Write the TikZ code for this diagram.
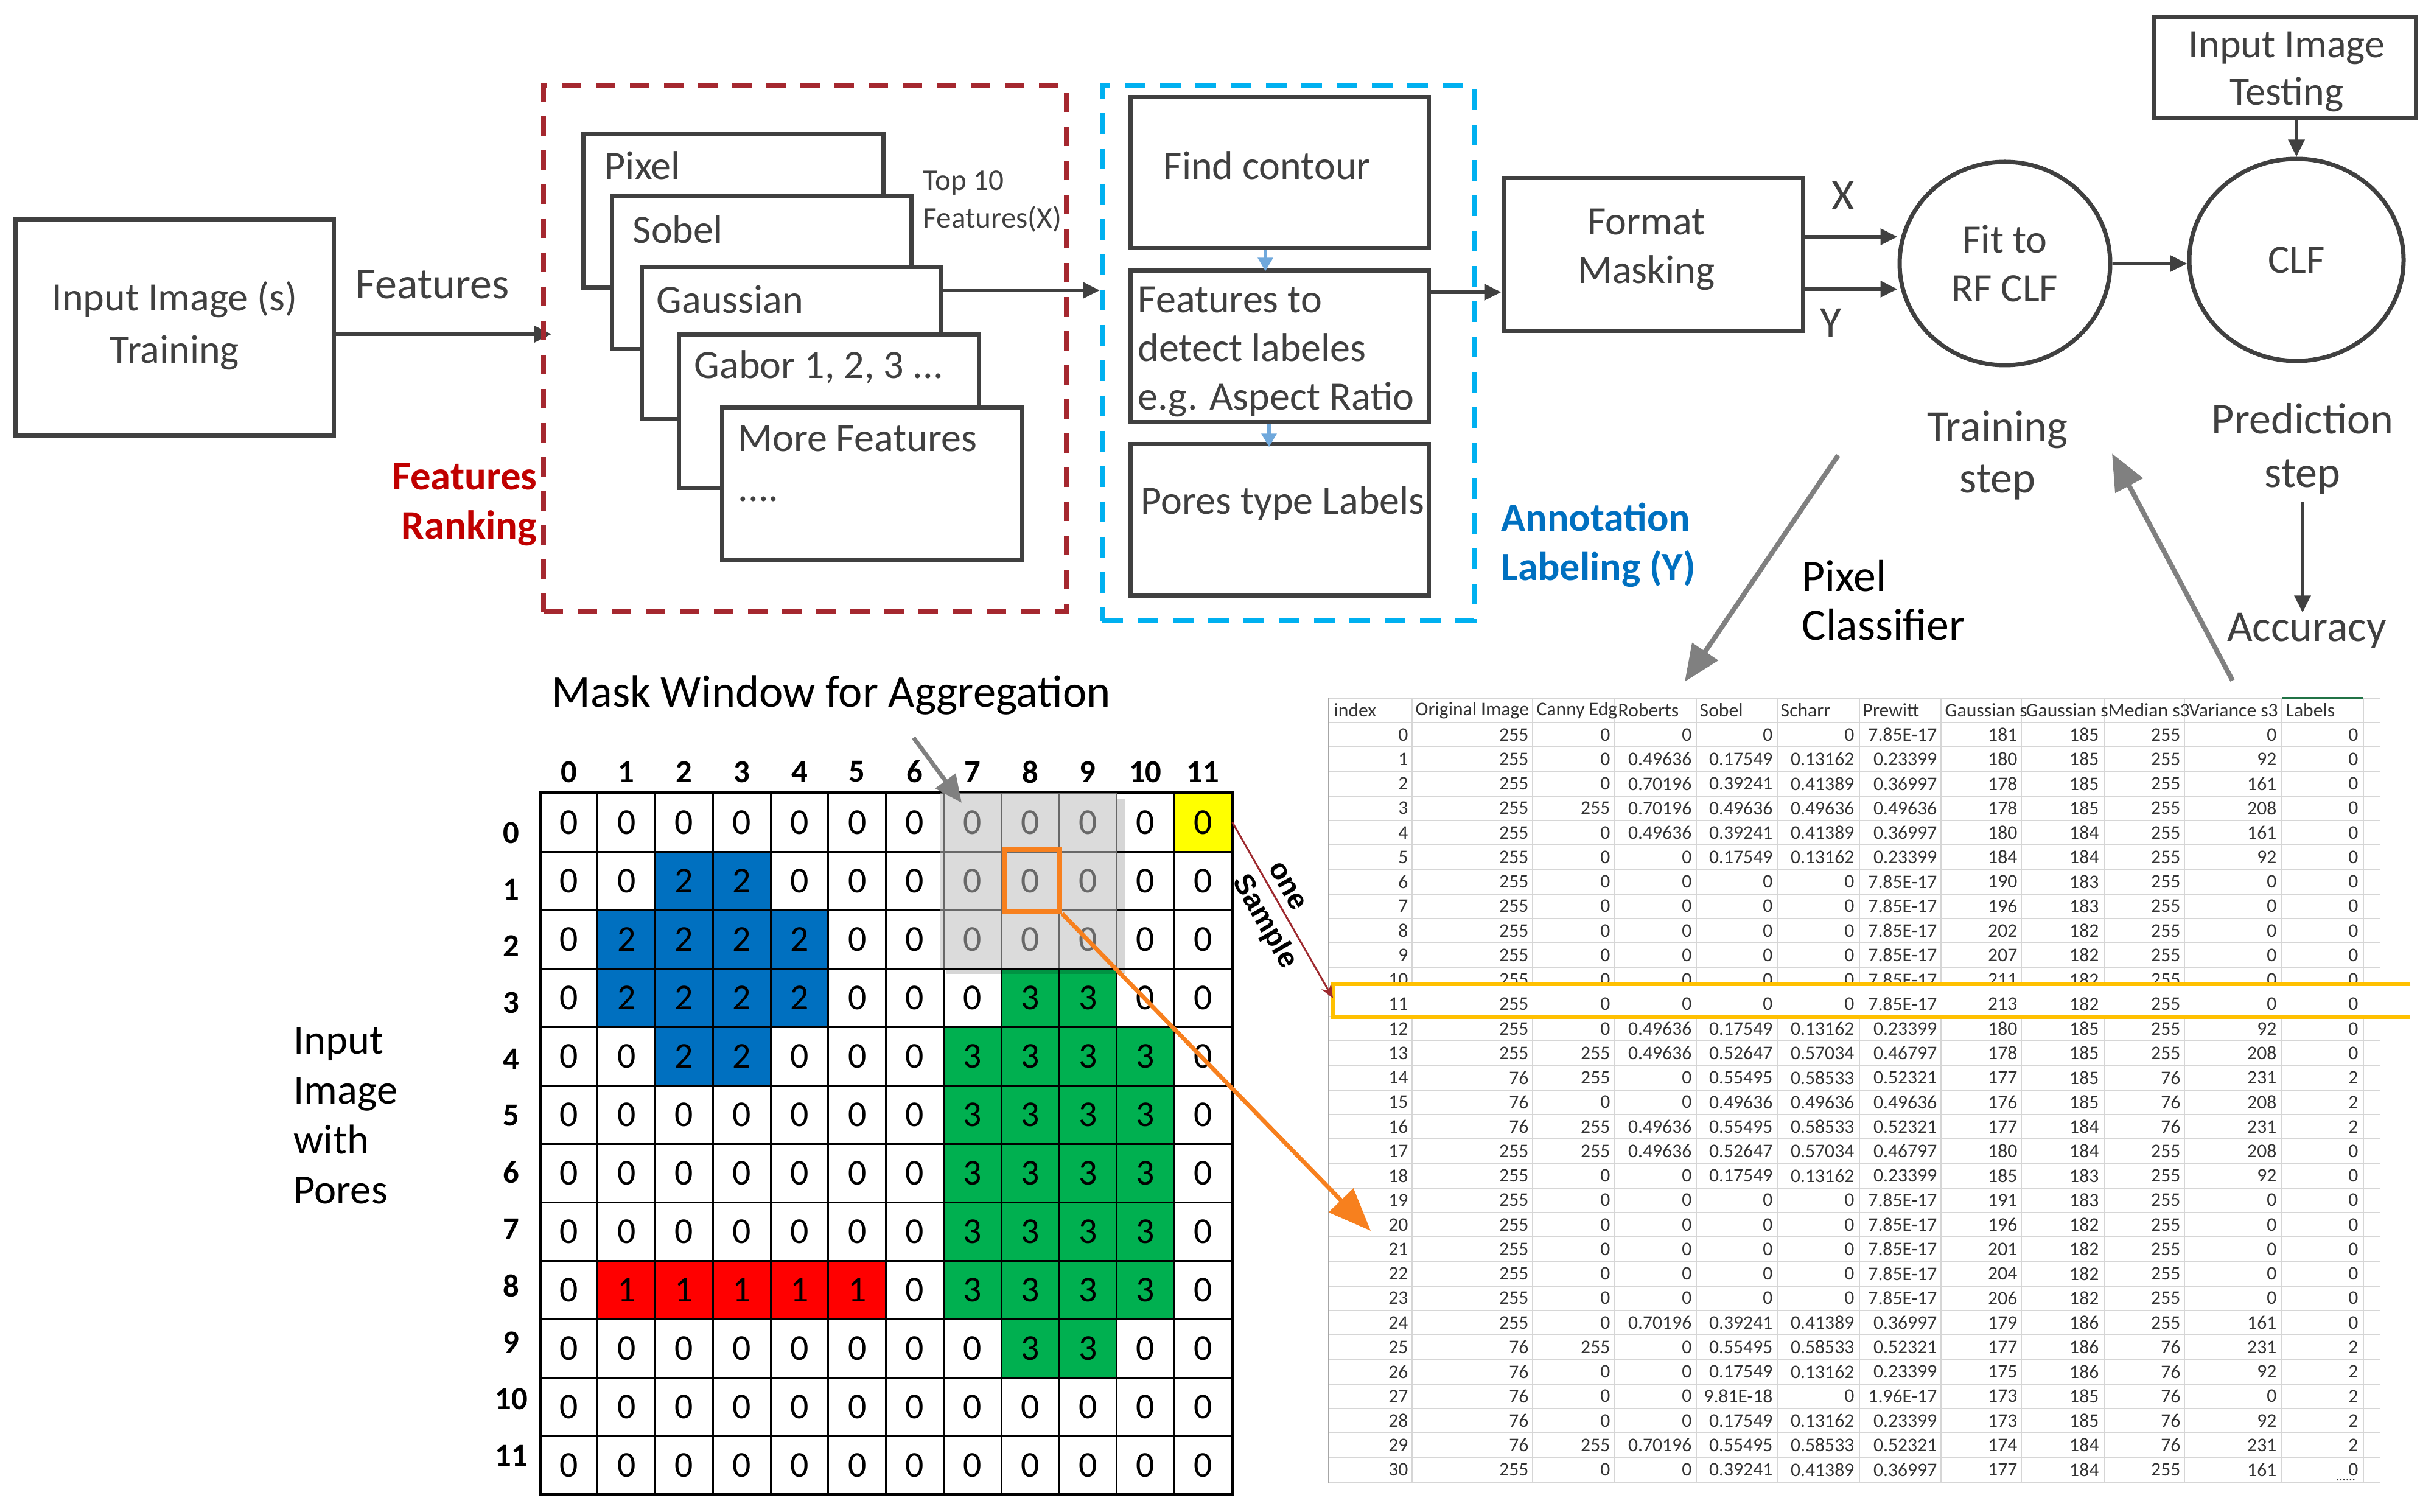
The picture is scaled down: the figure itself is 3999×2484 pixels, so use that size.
\documentclass[tikz,border=0pt]{standalone}
\usepackage{fontspec}
\setmainfont{Carlito}
\newfontfamily\arialf{Liberation Sans}
\usetikzlibrary{arrows.meta,fit,shapes.geometric}
\definecolor{dg}{HTML}{404040}
\definecolor{redd}{HTML}{A5282F}
\definecolor{rankred}{HTML}{C00000}
\definecolor{cyanb}{HTML}{00B0F0}
\definecolor{annblue}{HTML}{0070C0}
\definecolor{lblue}{HTML}{6FA8DC}
\definecolor{garr}{HTML}{808080}
\definecolor{orng}{HTML}{F7801E}
\definecolor{hl}{HTML}{FFC000}
\definecolor{cell0}{HTML}{FFFFFF}
\definecolor{cell1}{HTML}{FF0000}
\definecolor{cell2}{HTML}{0070C0}
\definecolor{cell3}{HTML}{00B050}
\definecolor{ylw}{HTML}{FFFF00}
\definecolor{tabtxt}{HTML}{333333}
\definecolor{tabline}{HTML}{D6D6D6}
\definecolor{xlgreen}{HTML}{217346}
\definecolor{sampred}{HTML}{9E2A2F}
\newcommand{\szbox}{\fontsize{18.8pt}{23.5pt}\selectfont}
\newcommand{\szlab}{\fontsize{20.5pt}{24.2pt}\selectfont}
\newcommand{\szsmall}{\fontsize{14pt}{17.4pt}\selectfont}
\newcommand{\sztab}{\fontsize{9pt}{10pt}\selectfont}
\newcommand{\szgrid}{\fontsize{17pt}{20pt}\selectfont}
\newcommand{\szglab}{\fontsize{15pt}{18pt}\selectfont\bfseries}
\newcommand{\rowbody}{%
 \node[td] (t\vA-a) at (2314,1207+40.25*\vA) {\vA};
 \node[td] (t\vA-b) at (2512,1207+40.25*\vA) {\vB};
 \node[td] (t\vA-c) at (2646,1207+40.25*\vA) {\vC};
 \node[td] (t\vA-d) at (2780,1207+40.25*\vA) {\vD};
 \node[td] (t\vA-e) at (2913,1207+40.25*\vA) {\vE};
 \node[td] (t\vA-f) at (3047,1207+40.25*\vA) {\vF};
 \node[td] (t\vA-g) at (3183,1207+40.25*\vA) {\vG};
 \node[td] (t\vA-h) at (3315,1207+40.25*\vA) {\vH};
 \node[td] (t\vA-i) at (3449,1207+40.25*\vA) {\vI};
 \node[td] (t\vA-j) at (3583,1207+40.25*\vA) {\vJ};
 \node[td] (t\vA-k) at (3741,1207+40.25*\vA) {\vK};
 \node[td] (t\vA-l) at (3875,1207+40.25*\vA) {\vL};
}
\tikzset{
 box/.style={draw=dg, line width=0.7mm, fill=white, inner sep=0pt},
 circ/.style={draw=dg, line width=0.7mm, ellipse, inner sep=0pt},
 rdash/.style={draw=redd, line width=0.8mm, dash pattern=on 3.2mm off 2.4mm, inner sep=0pt},
 bdash/.style={draw=cyanb, line width=0.8mm, dash pattern=on 3.4mm off 2.4mm, inner sep=0pt},
 txt/.style={inner sep=0pt, text=dg, font=\szbox},
 lab/.style={inner sep=0pt, text=dg, font=\szlab},
 blab/.style={inner sep=0pt, text=black, font=\szlab},
 arr/.style={draw=dg, line width=0.6mm, -{Triangle[length=2.8mm,width=2.6mm]}},
 barr/.style={draw=lblue, line width=0.6mm, -{Triangle[length=2.2mm,width=2.4mm]}},
 garrow/.style={draw=garr, line width=0.8mm, -{Triangle[length=6mm,width=5mm]}},
 marrow/.style={draw=garr, line width=0.7mm, -{Triangle[length=4.5mm,width=4mm]}},
 oarrow/.style={draw=orng, line width=0.7mm, -{Triangle[length=7mm,width=5.5mm]}},
 gd/.style={inner sep=0pt, font=\szgrid},
 glab/.style={inner sep=0pt, font=\szglab},
 td/.style={inner sep=0pt, text=tabtxt, font=\sztab, anchor=east},
 th/.style={inner sep=0pt, text=tabtxt, font=\sztab, anchor=west},
 gline/.style={draw=black, line width=0.3mm},
 tline/.style={draw=tabline, line width=0.2mm},
}
\begin{document}
\begin{tikzpicture}[x=0.1mm, y=-0.1mm]
\useasboundingbox[fill=white] (0,0) rectangle (3999,2484);

% ---------- top flow ----------
\node[box, fit={(25,361) (548,716)}] (inp) {};
\node[txt, align=center, font=\fontsize{18.8pt}{24.2pt}\selectfont] (inpt) at (287,535) {Input Image (s)\\Training};
\node[lab, anchor=base west] (featlab) at (584,491) {Features};
\coordinate (featin) at (906,549);
\draw[arr] (inp.east |- featin) -- (featin);

\node[rdash, fit={(893,141) (1752,1005)}] (redbox) {};
\node[inner sep=0pt, text=rankred, font=\fontsize{19pt}{23.3pt}\selectfont\bfseries, align=right, anchor=east] (rank) at (883,829) {Features\\Ranking};

\node[box, fit={(958,221) (1451,473)}] (pix) {};
\node[txt, anchor=base west] (pixt) at (993,295) {Pixel};
\node[box, fit={(1005,323) (1497,574)}] (sob) {};
\node[txt, anchor=base west] (sobt) at (1039,400) {Sobel};
\node[box, fit={(1054,439) (1545,689)}] (gauss) {};
\node[txt, anchor=base west] (gausst) at (1078,515) {Gaussian};
\node[box, fit={(1115,550) (1608,802)}] (gab) {};
\node[txt, anchor=base west] (gabt) at (1140,622) {Gabor 1, 2, 3 ...};
\node[box, fit={(1186,670) (1679,921)}] (more) {};
\node[txt, anchor=base west] (moret) at (1212,742) {More Features};
\node[txt, anchor=base west] (moredots) at (1212,824) {....};
\node[inner sep=0pt, text=dg, font=\szsmall, align=left, anchor=west] (top10) at (1516,331) {Top 10\\Features(X)};

\node[bdash, fit={(1811,141) (2422,1020)}] (bluebox) {};
\coordinate (gout) at ([yshift=8.7mm]gauss.east);
\draw[arr] (gout) -- (gout -| bluebox.west);

\node[box, fit={(1857,160) (2347,408)}] (find) {};
\node[txt, anchor=base west] (findt) at (1911,295) {Find contour};
\node[box, fit={(1857,445) (2347,694)}] (detect) {};
\node[txt, anchor=west, align=left, font=\fontsize{18.8pt}{22.9pt}\selectfont] (detectt) at (1869,578) {Features to\\detect labeles\\e.g. Aspect Ratio};
\node[box, fit={(1857,730) (2347,979)}] (pores) {};
\node[txt, anchor=base west] (porest) at (1874,845) {Pores type Labels};
\draw[barr, shorten >=-0.4mm] ([xshift=-2.3mm]find.south) -- ([xshift=-2.3mm]detect.north);
\draw[barr, shorten >=-0.8mm] ([xshift=-1.7mm]detect.south) -- ([xshift=-1.7mm]pores.north);
\node[inner sep=0pt, text=annblue, font=\fontsize{18.8pt}{23pt}\selectfont\bfseries, align=left, anchor=west] (annot) at (2466,895) {Annotation\\Labeling (Y)};

\node[box, fit={(2470,293) (2962,544)}] (fmt) {};
\node[txt, align=center, font=\fontsize{18.8pt}{23pt}\selectfont] (fmtt) at (2705,410) {Format\\Masking};
\coordinate (dout) at ([yshift=8.95mm]detect.east);
\draw[arr] (dout) -- (dout -| fmt.west);

\node[circ, minimum width=34.6mm, minimum height=33.4mm, text=dg, font=\fontsize{18.8pt}{23pt}\selectfont, align=center] (fitc) at (3294,433) {Fit to\\RF CLF};
\node[circ, minimum width=35.2mm, minimum height=33.2mm, text=dg, font=\szbox] (clf) at (3773,427) {CLF};
\coordinate (xs) at ([yshift=2.95mm]fmt.east);
\coordinate (ys) at ([yshift=-5.65mm]fmt.east);
\draw[arr] (xs) -- (xs -| fitc.west);
\draw[arr] (ys) -- (ys -| fitc.west);
\node[lab, anchor=base] (xl) at (3028,345) {X};
\node[lab, anchor=base] (yl) at (3008,554) {Y};
\draw[arr] (fitc.east) -- (fitc.east -| clf.west);

\node[box, fit={(3539,28) (3969,194)}] (test) {};
\node[txt, align=center, font=\fontsize{18.8pt}{22.2pt}\selectfont] (testt) at (3757,118) {Input Image\\Testing};
\draw[arr] (test.south -| clf.north) -- (clf.north);

\node[lab, align=center] (train) at (3282,748) {Training\\step};
\node[lab, align=center, font=\fontsize{20.5pt}{25pt}\selectfont] (pred) at (3783,737) {Prediction\\step};
\node[lab] (acc) at (3790,1036) {Accuracy};
\coordinate (pbot) at ([yshift=-1.2mm]pred.south);
\draw[arr] (pbot) -- (pbot |- acc.north);

\node[blab, align=left, anchor=west, font=\fontsize{21pt}{22.8pt}\selectfont] (pixcl) at (2960,986) {Pixel\\Classifier};

\coordinate (pcA) at (3020,748);
\coordinate (pcB) at (2768,1120);
\draw[garrow] (pcA) -- (pcB);
\coordinate (acA) at (3668,1118);
\coordinate (acB) at (3470,745);
\draw[garrow] (acA) -- (acB);

% ---------- table ----------
\foreach \k in {0,...,31} { \draw[tline] (2183,1187+40.25*\k) -- (3911,1187+40.25*\k); }
\draw[tline] (2183,1147) -- (3911,1147);
\foreach \xx in {2320,2518,2653,2787,2920,3055,3189,3321,3457,3589,3749,3883} { \draw[tline] (\xx,1147) -- (\xx,2437); }
\draw[draw=gray!70, line width=0.25mm] (2183,1147) -- (2183,2437);
\draw[draw=xlgreen, line width=0.35mm] (3749,1147) -- (3883,1147);
\node[th] (h1) at (2191,1167) {index};
\node[th] (h2) at (2325,1167) {Original Image};
\node[th] (h3) at (2524,1167) {Canny Edg};
\node[th] (h4) at (2658,1167) {Roberts};
\node[th] (h5) at (2792,1167) {Sobel};
\node[th] (h6) at (2925,1167) {Scharr};
\node[th] (h7) at (3060,1167) {Prewitt};
\node[th] (h8) at (3195,1167) {Gaussian s};
\node[th] (h9) at (3328,1167) {Gaussian s};
\node[th] (h10) at (3463,1167) {Median s3};
\node[th] (h11) at (3596,1167) {Variance s3};
\node[th] (h12) at (3755,1167) {Labels};
\foreach \vA/\vB/\vC/\vD/\vE/\vF/\vG/\vH/\vI/\vJ/\vK/\vL in {
0/255/0/0/0/0/7.85E-17/181/185/255/0/0,
1/255/0/0.49636/0.17549/0.13162/0.23399/180/185/255/92/0,
2/255/0/0.70196/0.39241/0.41389/0.36997/178/185/255/161/0,
3/255/255/0.70196/0.49636/0.49636/0.49636/178/185/255/208/0,
4/255/0/0.49636/0.39241/0.41389/0.36997/180/184/255/161/0,
5/255/0/0/0.17549/0.13162/0.23399/184/184/255/92/0,
6/255/0/0/0/0/7.85E-17/190/183/255/0/0,
7/255/0/0/0/0/7.85E-17/196/183/255/0/0,
8/255/0/0/0/0/7.85E-17/202/182/255/0/0,
9/255/0/0/0/0/7.85E-17/207/182/255/0/0,
10/255/0/0/0/0/7.85E-17/211/182/255/0/0,
12/255/0/0.49636/0.17549/0.13162/0.23399/180/185/255/92/0,
13/255/255/0.49636/0.52647/0.57034/0.46797/178/185/255/208/0,
14/76/255/0/0.55495/0.58533/0.52321/177/185/76/231/2,
15/76/0/0/0.49636/0.49636/0.49636/176/185/76/208/2,
16/76/255/0.49636/0.55495/0.58533/0.52321/177/184/76/231/2,
17/255/255/0.49636/0.52647/0.57034/0.46797/180/184/255/208/0,
18/255/0/0/0.17549/0.13162/0.23399/185/183/255/92/0,
19/255/0/0/0/0/7.85E-17/191/183/255/0/0,
20/255/0/0/0/0/7.85E-17/196/182/255/0/0,
21/255/0/0/0/0/7.85E-17/201/182/255/0/0,
22/255/0/0/0/0/7.85E-17/204/182/255/0/0,
23/255/0/0/0/0/7.85E-17/206/182/255/0/0,
24/255/0/0.70196/0.39241/0.41389/0.36997/179/186/255/161/0,
25/76/255/0/0.55495/0.58533/0.52321/177/186/76/231/2,
26/76/0/0/0.17549/0.13162/0.23399/175/186/76/92/2,
27/76/0/0/9.81E-18/0/1.96E-17/173/185/76/0/2,
28/76/0/0/0.17549/0.13162/0.23399/173/185/76/92/2,
29/76/255/0.70196/0.55495/0.58533/0.52321/174/184/76/231/2,
30/255/0/0/0.39241/0.41389/0.36997/177/184/255/161/0}{\rowbody}
\fill[white] (2190,1617) rectangle (3960,1671);
\draw[draw=hl, line width=0.55mm] (3960,1617) -- (2190,1617) -- (2190,1671) -- (3960,1671);
\coordinate (hlin) at (2190,1640);
\foreach \vA/\vB/\vC/\vD/\vE/\vF/\vG/\vH/\vI/\vJ/\vK/\vL in {11/255/0/0/0/0/7.85E-17/213/182/255/0/0}{\rowbody}
\node[inner sep=0pt, text=tabtxt, font=\fontsize{6pt}{6pt}\selectfont] (tdots) at (3854,2431) {......};

% ---------- grid ----------
\node[inner sep=0pt, anchor=base west, text=black, font=\fontsize{21.2pt}{24pt}\selectfont] (maskl) at (906,1162) {Mask Window for Aggregation};
\node[inner sep=0pt, anchor=west, align=left, text=black, font=\fontsize{19.5pt}{23.3pt}\selectfont] (inpores) at (482,1833) {Input\\Image\\with\\Pores};

\foreach \r/\vals in {
0/{0,0,0,0,0,0,0,0,0,0,0,0},
1/{0,0,2,2,0,0,0,0,0,0,0,0},
2/{0,2,2,2,2,0,0,0,0,0,0,0},
3/{0,2,2,2,2,0,0,0,3,3,0,0},
4/{0,0,2,2,0,0,0,3,3,3,3,0},
5/{0,0,0,0,0,0,0,3,3,3,3,0},
6/{0,0,0,0,0,0,0,3,3,3,3,0},
7/{0,0,0,0,0,0,0,3,3,3,3,0},
8/{0,1,1,1,1,1,0,3,3,3,3,0},
9/{0,0,0,0,0,0,0,0,3,3,0,0},
10/{0,0,0,0,0,0,0,0,0,0,0,0},
11/{0,0,0,0,0,0,0,0,0,0,0,0}}{
  \foreach \v [count=\c from 0] in \vals {
    \fill[cell\v] (887+94.75*\c,1303+96*\r) rectangle ++(94.75,96);
  }
}
\node[fill=ylw, inner sep=0pt, fit={(1929.25,1303) (2024,1399)}] (ycell) {};
\foreach \c in {0,...,12} { \draw[gline] (887+94.75*\c,1303) -- (887+94.75*\c,2455); }
\foreach \r in {0,...,12} { \draw[gline] (887,1303+96*\r) -- (2024,1303+96*\r); }
\draw[draw=black, line width=0.5mm] (887,1303) rectangle (2024,2455);
\foreach \r/\vals in {
0/{0,0,0,0,0,0,0,0,0,0,0,0},
1/{0,0,2,2,0,0,0,0,0,0,0,0},
2/{0,2,2,2,2,0,0,0,0,0,0,0},
3/{0,2,2,2,2,0,0,0,3,3,0,0},
4/{0,0,2,2,0,0,0,3,3,3,3,0},
5/{0,0,0,0,0,0,0,3,3,3,3,0},
6/{0,0,0,0,0,0,0,3,3,3,3,0},
7/{0,0,0,0,0,0,0,3,3,3,3,0},
8/{0,1,1,1,1,1,0,3,3,3,3,0},
9/{0,0,0,0,0,0,0,0,3,3,0,0},
10/{0,0,0,0,0,0,0,0,0,0,0,0},
11/{0,0,0,0,0,0,0,0,0,0,0,0}}{
  \foreach \v [count=\c from 0] in \vals {
    \node[gd] (g-\r-\c) at (934.4+94.75*\c,1351+96*\r) {\v};
  }
}
\foreach \c in {0,...,11} { \node[glab] (cl-\c) at (934.4+94.75*\c,1268) {\c}; }
\foreach \r in {0,...,11} { \node[glab] (rl-\r) at (840,1368+93*\r) {\r}; }
% mask window overlay
\fill[black, fill opacity=0.16] (1835,1313) rectangle (1849,1600);
\fill[black, fill opacity=0.16] (1555,1591) rectangle (1835,1600);
\fill[black!25, fill opacity=0.55] (1545,1303) rectangle (1835,1591);
\coordinate (mA) at (1501,1212);
\coordinate (mB) at (1580,1319);
\draw[marrow] (mA) -- (mB);

\node[draw=orng, line width=0.8mm, inner sep=0pt, fit={(1650,1395) (1741,1497)}] (osq) {};
\coordinate (otip) at (2252,2022);
\draw[oarrow] (osq.south east) -- (otip);

\draw[draw=sampred, line width=0.3mm, -{Stealth[length=2.2mm,width=1.8mm]}] (ycell.east) -- (hlin);
\node[inner sep=0pt, rotate=-60.2, font=\arialf\bfseries\fontsize{13.5pt}{16pt}\selectfont] (onet) at (2115,1456) {one};
\node[inner sep=0pt, rotate=-60.2, font=\arialf\bfseries\fontsize{13.5pt}{16pt}\selectfont] (sampt) at (2077,1515) {Sample};
\end{tikzpicture}
\end{document}
